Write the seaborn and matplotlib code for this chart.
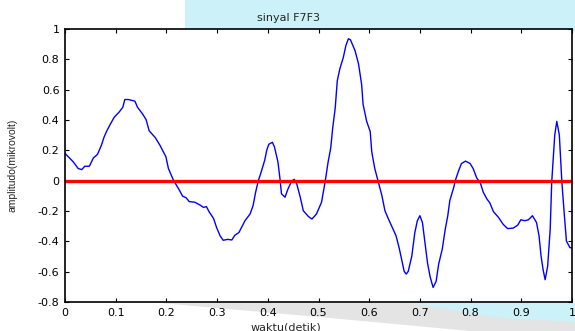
import numpy as np
import matplotlib
matplotlib.use("Agg")
import matplotlib.pyplot as plt
import seaborn as sns
from matplotlib.patches import Rectangle, Polygon

# data (time in seconds, amplitude in microvolt)
waktu = [0.000, 0.016, 0.026, 0.033, 0.039, 0.048, 0.056, 0.064, 0.072, 0.077,
         0.082, 0.089, 0.097, 0.107, 0.114, 0.118, 0.125, 0.138, 0.143, 0.153,
         0.160, 0.166, 0.178, 0.187, 0.199, 0.204, 0.214, 0.224, 0.232, 0.239,
         0.245, 0.256, 0.266, 0.273, 0.279, 0.284, 0.293, 0.299, 0.306, 0.312,
         0.321, 0.329, 0.335, 0.343, 0.348, 0.355, 0.365, 0.371, 0.376, 0.381,
         0.387, 0.394, 0.398, 0.402, 0.409, 0.413, 0.420, 0.424, 0.427, 0.434,
         0.440, 0.447, 0.452, 0.457, 0.464, 0.470, 0.480, 0.487, 0.496, 0.506,
         0.513, 0.519, 0.524, 0.528, 0.533, 0.537, 0.542, 0.549, 0.554, 0.559,
         0.563, 0.572, 0.579, 0.585, 0.588, 0.595, 0.602, 0.605, 0.611, 0.618,
         0.625, 0.631, 0.638, 0.644, 0.653, 0.659, 0.664, 0.669, 0.673, 0.677,
         0.684, 0.690, 0.695, 0.700, 0.705, 0.710, 0.715, 0.720, 0.726, 0.732,
         0.737, 0.744, 0.750, 0.755, 0.759, 0.766, 0.771, 0.776, 0.782, 0.790,
         0.799, 0.805, 0.812, 0.819, 0.825, 0.832, 0.838, 0.845, 0.855, 0.864,
         0.873, 0.884, 0.893, 0.899, 0.907, 0.914, 0.922, 0.930, 0.935, 0.939,
         0.943, 0.947, 0.952, 0.957, 0.960, 0.966, 0.970, 0.975, 0.980, 0.985,
         0.989, 0.996, 1.000]
amplitudo = [0.180, 0.125, 0.080, 0.073, 0.095, 0.095, 0.150, 0.173, 0.235, 0.287,
             0.325, 0.370, 0.418, 0.453, 0.484, 0.535, 0.535, 0.524, 0.484, 0.440,
             0.402, 0.329, 0.284, 0.235, 0.158, 0.080, 0.002, -0.053, -0.102, -0.113,
             -0.138, -0.142, -0.160, -0.176, -0.171, -0.204, -0.249, -0.309, -0.364, -0.393,
             -0.387, -0.391, -0.360, -0.342, -0.309, -0.264, -0.220, -0.164, -0.076, -0.004,
             0.058, 0.136, 0.202, 0.240, 0.253, 0.224, 0.124, 0.013, -0.087, -0.109,
             -0.053, -0.004, 0.009, -0.020, -0.109, -0.198, -0.236, -0.253, -0.220, -0.142,
             -0.009, 0.124, 0.213, 0.347, 0.480, 0.658, 0.736, 0.813, 0.891, 0.936,
             0.929, 0.858, 0.769, 0.636, 0.502, 0.391, 0.324, 0.191, 0.080, -0.009,
             -0.098, -0.198, -0.253, -0.298, -0.364, -0.442, -0.520, -0.598, -0.616, -0.598,
             -0.498, -0.342, -0.264, -0.231, -0.276, -0.409, -0.542, -0.631, -0.704, -0.664,
             -0.550, -0.453, -0.320, -0.231, -0.131, -0.053, 0.013, 0.062, 0.113, 0.129,
             0.113, 0.080, 0.018, -0.013, -0.076, -0.120, -0.147, -0.204, -0.242, -0.287,
             -0.316, -0.313, -0.293, -0.258, -0.264, -0.258, -0.231, -0.276, -0.364, -0.498,
             -0.587, -0.653, -0.564, -0.320, -0.009, 0.302, 0.391, 0.302, -0.009, -0.231,
             -0.398, -0.442, -0.442]
garis_nol = [0.0] * len(waktu)

x_ticks = [0, 0.1, 0.2, 0.3, 0.4, 0.5, 0.6, 0.7, 0.8, 0.9, 1]
x_labels = ["0", "0.1", "0.2", "0.3", "0.4", "0.5", "0.6", "0.7", "0.8", "0.9", "1"]
y_ticks = [-0.8, -0.6, -0.4, -0.2, 0, 0.2, 0.4, 0.6, 0.8, 1]
y_labels = ["-0.8", "-0.6", "-0.4", "-0.2", "0", "0.2", "0.4", "0.6", "0.8", "1"]

sns.set_theme(style="ticks")
plt.rcParams['font.family'] = ['DejaVu Sans']

fig = plt.figure(figsize=(5.75, 3.31), dpi=100)
W, H = 575.0, 331.0

def fx(px):
    return px / W

def fy(py):
    return 1 - py / H

# faint watermark colours behind the figure
fig.patches.append(Rectangle((fx(185), fy(31)), 390 / W, 31 / H, transform=fig.transFigure,
                             facecolor="#cdf1f8", edgecolor="none", zorder=-5))
fig.patches.append(Polygon([(fx(160), fy(303)), (fx(575), fy(303)), (fx(575), fy(331)),
                            (fx(470), fy(331)), (fx(330), fy(318))],
                           closed=True, transform=fig.transFigure,
                           facecolor="#e4e4e4", edgecolor="none", zorder=-6))
fig.patches.append(Polygon([(fx(410), fy(303)), (fx(575), fy(303)), (fx(575), fy(322)),
                            (fx(500), fy(318))],
                           closed=True, transform=fig.transFigure,
                           facecolor="#cdf1f8", edgecolor="none", zorder=-5))

ax = fig.add_axes([65 / W, 29 / H, 507 / W, 273 / H])

sns.lineplot(x=waktu, y=amplitudo, ax=ax, color="#0000ff", linewidth=1.0,
             estimator=None, sort=False)
sns.lineplot(x=waktu, y=garis_nol, ax=ax, color="#ff0000", linewidth=2.4,
             estimator=None, sort=False)

ax.set_xlim(0, 1)
ax.set_ylim(-0.8, 1)
ax.set_xticks(x_ticks)
ax.set_xticklabels(x_labels)
ax.set_yticks(y_ticks)
ax.set_yticklabels(y_labels)
ax.tick_params(direction="in", length=3, width=0.8, labelsize=8, colors="black",
               top=True, right=True, pad=4)
for s in ax.spines.values():
    s.set_visible(True)
    s.set_linewidth(1.2)
    s.set_color("black")

ax.set_title("sinyal F7F3", fontsize=8, x=0.44, pad=6)
ax.set_xlabel("waktu(detik)", fontsize=8)
ax.xaxis.set_label_coords(0.435, -0.075)
ax.set_ylabel("amplitudo(mikrovolt)", fontsize=7.5, family=['Liberation Sans', 'DejaVu Sans'])
ax.yaxis.set_label_coords(-0.093, 0.5)

fig.savefig("out.png", dpi=100)
